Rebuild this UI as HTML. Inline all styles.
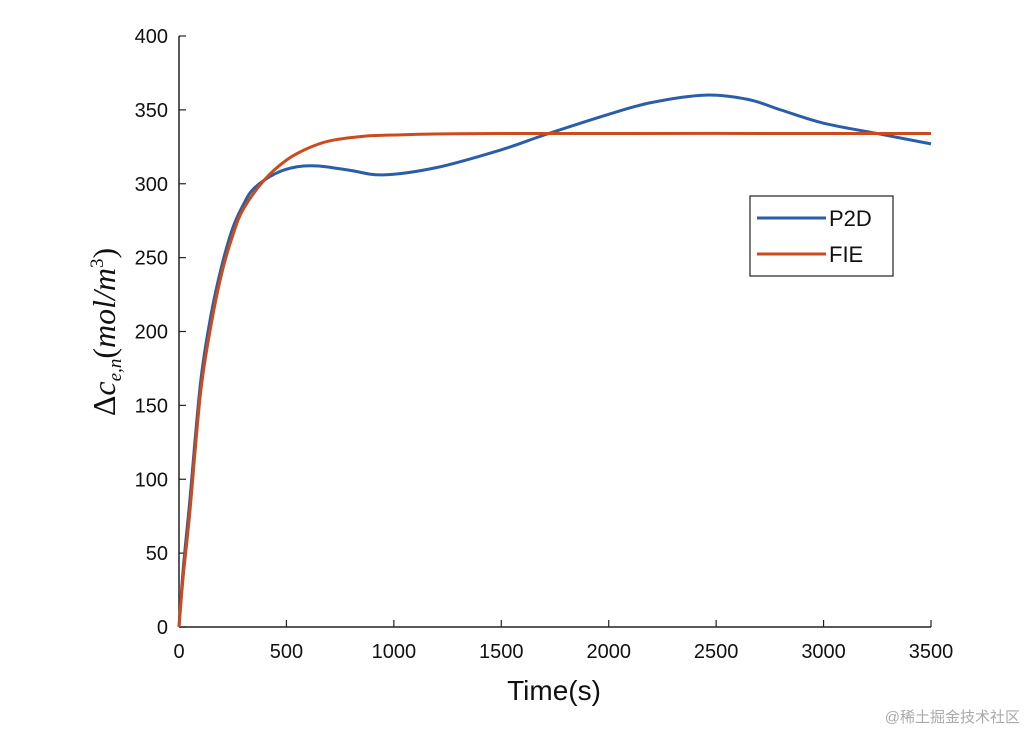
<!DOCTYPE html>
<html><head><meta charset="utf-8"><style>
body{margin:0;background:#fff}
svg{display:block;font-family:"Liberation Sans",sans-serif}
</style></head><body>
<svg id="chart" width="1028" height="732">
<g id="axes"></g><g id="series"></g>
<g>
<rect x="750" y="196" width="143" height="80" fill="#fff" stroke="#222" stroke-width="1.2"/>
<line x1="757" y1="218" x2="826" y2="218" stroke="#2a5ea8" stroke-width="3"/>
<text x="829" y="226" font-size="22" fill="#111">P2D</text>
<line x1="757" y1="254" x2="826" y2="254" stroke="#cc4a1c" stroke-width="3"/>
<text x="829" y="262" font-size="22" fill="#111">FIE</text>
</g>
<text x="554" y="700" font-size="28" text-anchor="middle" fill="#111">Time(s)</text>
<text transform="translate(115,332) rotate(-90)" font-size="32" text-anchor="middle" fill="#111" font-family="Liberation Serif,serif">Δ<tspan font-style="italic">c</tspan><tspan font-style="italic" font-size="19" dy="6">e,n</tspan><tspan dy="-6">(</tspan><tspan font-style="italic">mol/m</tspan><tspan font-size="19" dy="-12">3</tspan><tspan dy="12">)</tspan></text>
<text x="1020" y="722" font-size="15" text-anchor="end" fill="#aaa" font-family="Liberation Sans,'Noto Sans CJK SC',sans-serif">@稀土掘金技术社区</text>
</svg>
<script>
const xTicks=[0,500,1000,1500,2000,2500,3000,3500];
const yTicks=[0,50,100,150,200,250,300,350,400];
const p2dT=[0,20,50,100,150,200,250,300,350,450,550,650,800,950,1200,1500,1700,2000,2200,2450,2650,2800,3000,3250,3500];
const p2dV=[0,40,85,165,212,245,270,286,297,307,311.5,312,309,306,311,323,333,347,355,360,357,350,341,334,327];
const fieT=[0,20,50,100,150,200,250,300,400,500,600,700,850,1000,1500,3500];
const fieV=[0,35,77,158,205,240,265,283,303,316,324,329,332,333,334,334];
const X=t=>179+t*752/3500, Y=v=>627-v*591/400;
const ns="http://www.w3.org/2000/svg";
const ax=document.getElementById('axes'), se=document.getElementById('series');
function mk(tag,at,parent){const e=document.createElementNS(ns,tag);for(const k in at)e.setAttribute(k,at[k]);parent.appendChild(e);return e;}
let e=mk('line',{x1:179,y1:627,x2:931,y2:627,stroke:'#222','stroke-width':1.5},ax);


e=mk('line',{x1:179,y1:36,x2:179,y2:627,stroke:'#222','stroke-width':1.5},ax);


xTicks.forEach(t=>{mk('line',{x1:X(t),y1:627,x2:X(t),y2:620,stroke:'#222','stroke-width':1.2},ax);
const tx=mk('text',{x:X(t),y:658,'font-size':20,'text-anchor':'middle',fill:'#111'},ax);tx.textContent=t;

});
yTicks.forEach(v=>{mk('line',{x1:179,y1:Y(v),x2:186,y2:Y(v),stroke:'#222','stroke-width':1.2},ax);
const tx=mk('text',{x:168,y:Y(v)+7,'font-size':20,'text-anchor':'end',fill:'#111'},ax);tx.textContent=v;

});
function path(ts,vs){const p=ts.map((t,i)=>[X(t),Y(vs[i])]);let d='M'+p[0][0]+','+p[0][1];
for(let i=0;i<p.length-1;i++){const p0=p[Math.max(0,i-1)],p1=p[i],p2=p[i+1],p3=p[Math.min(p.length-1,i+2)];
const c1=[p1[0]+(p2[0]-p0[0])/6,p1[1]+(p2[1]-p0[1])/6],c2=[p2[0]-(p3[0]-p1[0])/6,p2[1]-(p3[1]-p1[1])/6];
d+=`C${c1[0]},${c1[1]} ${c2[0]},${c2[1]} ${p2[0]},${p2[1]}`;}return d;}
e=mk('path',{d:path(p2dT,p2dV),fill:'none',stroke:'#2a5ea8','stroke-width':3},se);


e=mk('path',{d:path(fieT,fieV),fill:'none',stroke:'#cc4a1c','stroke-width':3},se);


</script>
</body></html>
